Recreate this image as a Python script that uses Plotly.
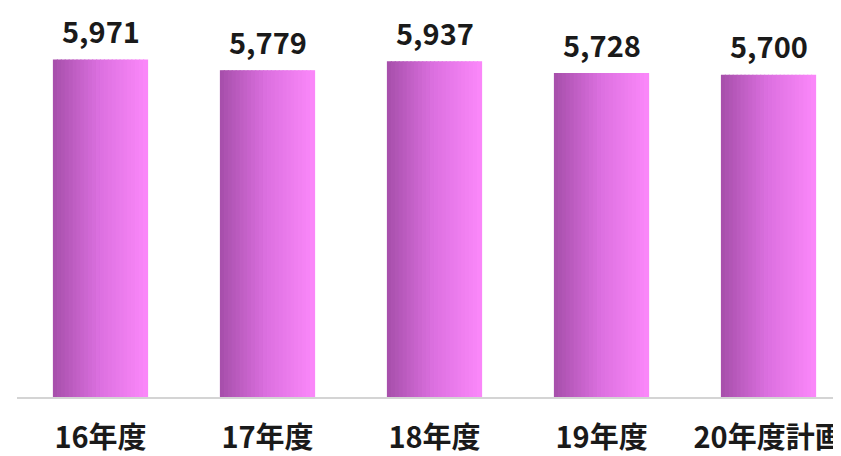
import plotly.graph_objects as go

categories = ["16年度", "17年度", "18年度", "19年度", "20年度計画"]
values = [5971, 5779, 5937, 5728, 5700]
value_labels = ["5,971", "5,779", "5,937", "5,728", "5,700"]

# horizontal gradient of each bar, left (dark) to right (light)
left_rgb = (168, 80, 172)
mid_rgb = (220, 112, 224)
right_rgb = (250, 135, 249)
n_slices = 24

def lerp(a, b, t):
    return tuple(int(round(a[i] + (b[i] - a[i]) * t)) for i in range(3))

colors = []
for k in range(n_slices):
    t = k / (n_slices - 1)
    if t < 0.5:
        c = lerp(left_rgb, mid_rgb, t / 0.5)
    else:
        c = lerp(mid_rgb, right_rgb, (t - 0.5) / 0.5)
    colors.append("rgb(%d,%d,%d)" % c)

fig = go.Figure()
for c in colors:
    fig.add_trace(go.Bar(
        x=categories, y=values,
        marker=dict(color=c, line=dict(color=c, width=1.2)),
        showlegend=False, hoverinfo="skip",
    ))

for cat, v, lab in zip(categories, values, value_labels):
    fig.add_annotation(
        x=cat, y=v, text=lab, showarrow=False,
        yanchor="bottom", yshift=8, borderpad=0,
        font=dict(family="Noto Sans CJK JP", size=29, color="#1a1a1a", weight="bold"),
    )

# page body has an 8px margin; size the figure to fit the visible window
fig.update_layout(
    width=833, height=448,
    margin=dict(l=9, r=0, t=0, b=59),
    paper_bgcolor="white", plot_bgcolor="white",
    barmode="group", bargap=0.437, bargroupgap=0,
    xaxis=dict(
        type="category", range=[-0.5, 4.434], automargin=False,
        showline=True, linecolor="#d4d4d4", linewidth=2,
        showgrid=False, zeroline=False, ticks="",
        ticklabelstandoff=14,
        tickfont=dict(family="Noto Sans CJK JP", size=29, color="#1a1a1a", weight="bold"),
    ),
    yaxis=dict(range=[0, 6892], visible=False, showgrid=False, zeroline=False,
               automargin=False),
)

fig.write_html("out.html")
